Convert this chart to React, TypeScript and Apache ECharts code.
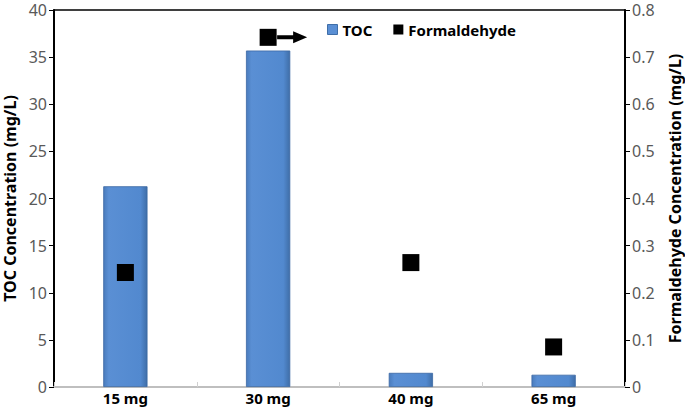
import React, { useEffect, useRef } from "react";
import * as echarts from "echarts";

const categories = ["15 mg", "30 mg", "40 mg", "65 mg"];
const tocValues = [21.3, 35.7, 1.5, 1.3];
const formaldehydeValues = [0.243, 0.742, 0.264, 0.085];
const arrowPoint = [["30 mg", 0.742]];

const FONT = "'Noto Sans', 'Open Sans', sans-serif";

export default function App() {
  const ref = useRef<HTMLDivElement>(null);
  useEffect(() => {
    if (!ref.current) return;
    const chart = echarts.init(ref.current, null, { renderer: "svg" });
    const barColor = new echarts.graphic.LinearGradient(0, 0, 1, 0, [
      { offset: 0, color: "#4a7cbd" },
      { offset: 0.12, color: "#5a8fd4" },
      { offset: 0.85, color: "#5289cf" },
      { offset: 1, color: "#3f6ea8" },
    ]);
    chart.setOption({
      animation: false,
      backgroundColor: "#ffffff",
      grid: { left: 54, right: 60, top: 10, bottom: 27, containLabel: false, outerBoundsMode: "none" },
      legend: {
        left: 322,
        top: 17,
        itemGap: 21,
        itemWidth: 10,
        itemHeight: 10,
        textStyle: { fontFamily: FONT, fontWeight: "bold", fontSize: 15, color: "#000" },
        data: [
          { name: "TOC", icon: "rect", itemStyle: { color: "#5a8fd4", borderColor: "#3f6ea8", borderWidth: 1 } },
          { name: "Formaldehyde", icon: "rect", itemStyle: { color: "#000", opacity: 1 } },
        ],
      },
      xAxis: [
        {
          type: "category",
          data: categories,
          position: "bottom",
          axisLine: { lineStyle: { color: "#bfbfbf", width: 2 } },
          axisTick: { show: true, inside: true, length: 5, lineStyle: { color: "#d0d0d0" } },
          axisLabel: { fontFamily: FONT, fontWeight: "bold", fontSize: 15, color: "#000", margin: 3 },
          splitLine: { show: false },
        },
        {
          type: "category",
          data: categories,
          position: "top",
          axisLine: { show: true, onZero: false, lineStyle: { color: "#000", width: 1.5 } },
          axisTick: { show: false },
          axisLabel: { show: false },
        },
      ],
      yAxis: [
        {
          type: "value",
          min: 0,
          max: 40,
          interval: 5,
          name: "TOC Concentration (mg/L)",
          nameLocation: "middle",
          nameGap: 33,
          nameTextStyle: { fontFamily: FONT, fontWeight: "bold", fontSize: 16, color: "#000" },
          axisLine: { show: true, lineStyle: { color: "#000", width: 2 } },
          axisTick: { show: true, length: 5, lineStyle: { color: "#000" } },
          axisLabel: { fontFamily: FONT, fontSize: 16, color: "#595959", margin: 7 },
          splitLine: { show: false },
        },
        {
          type: "value",
          min: 0,
          max: 0.8,
          interval: 0.1,
          position: "right",
          name: "Formaldehyde Concentration (mg/L)",
          nameLocation: "middle",
          nameGap: 42,
          nameRotate: 90,
          nameTextStyle: { fontFamily: FONT, fontWeight: "bold", fontSize: 16, color: "#000" },
          axisLine: { show: true, lineStyle: { color: "#000", width: 2 } },
          axisTick: { show: true, length: 5, lineStyle: { color: "#000" } },
          axisLabel: {
            fontFamily: FONT,
            fontSize: 16,
            color: "#595959",
            margin: 7,
            formatter: (v: number) => (v === 0 ? "0" : String(Math.round(v * 10) / 10)),
          },
          splitLine: { show: false },
        },
      ],
      series: [
        {
          name: "TOC",
          type: "bar",
          data: tocValues,
          barWidth: "31%",
          itemStyle: { color: barColor, borderColor: "#3a67a3", borderWidth: 0.8 },
        },
        {
          name: "Formaldehyde",
          type: "scatter",
          yAxisIndex: 1,
          data: formaldehydeValues,
          symbol: "rect",
          symbolSize: 17,
          itemStyle: { color: "#000", opacity: 1 },
          z: 5,
        },
        {
          name: "arrow",
          type: "scatter",
          yAxisIndex: 1,
          data: arrowPoint,
          symbol: "path://M0,4 L16,4 L16,0 L30,6 L16,12 L16,8 L0,8 Z",
          symbolSize: [30, 12],
          symbolOffset: [24, 0],
          symbolKeepAspect: false,
          itemStyle: { color: "#000", opacity: 1 },
          z: 4,
        },
      ],
    });
    return () => chart.dispose();
  }, []);
  return (
    <div
      ref={ref}
      style={{ position: "absolute", left: 0, top: 0, width: 685, height: 414 }}
    />
  );
}
